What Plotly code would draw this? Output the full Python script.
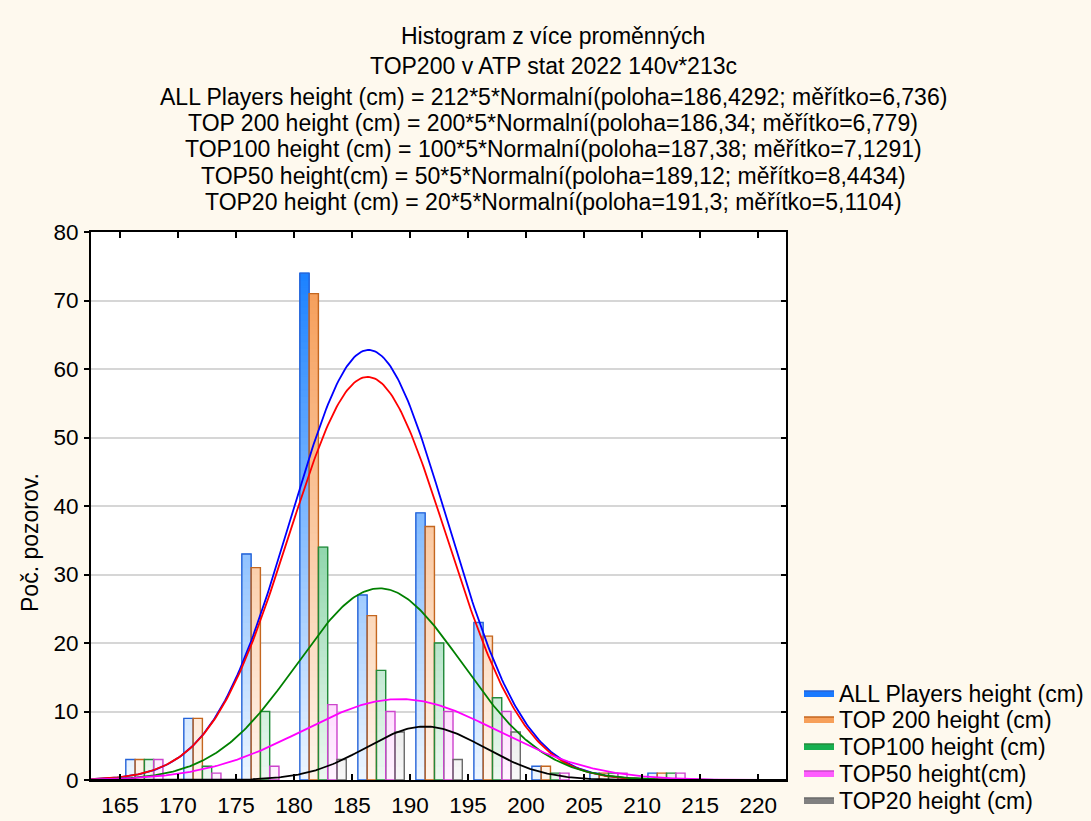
import numpy as np
import plotly.graph_objects as go

# ---------------- data ----------------
bin_edges = [165, 170, 175, 180, 185, 190, 195, 200, 205, 210]  # left edges of 5 cm bins
bin_width = 5
series_names = ["ALL Players height (cm)", "TOP 200 height (cm)", "TOP100 height (cm)",
                "TOP50 height(cm)", "TOP20 height (cm)"]
all_players = [3, 9, 33, 74, 27, 39, 23, 2, 1, 1]
top200 = [3, 9, 31, 71, 24, 37, 21, 2, 1, 1]
top100 = [3, 2, 10, 34, 16, 20, 12, 1, 1, 1]
top50 = [3, 1, 2, 11, 10, 10, 10, 1, 1, 1]
top20 = [0, 0, 0, 3, 7, 3, 7, 0, 0, 0]
counts = [all_players, top200, top100, top50, top20]

# fitted normal distributions (from the chart title)
fit_n = [212, 200, 100, 50, 20]
fit_mu = [186.4292, 186.34, 187.38, 189.12, 191.3]
fit_sigma = [6.736, 6.779, 7.1291, 8.4434, 5.1104]

x_ticks = [165, 170, 175, 180, 185, 190, 195, 200, 205, 210, 215, 220]
y_ticks = [0, 10, 20, 30, 40, 50, 60, 70, 80]

title_lines = [
    "Histogram z více proměnných",
    "TOP200 v ATP stat 2022 140v*213c",
    "ALL Players height (cm) = 212*5*Normalní(poloha=186,4292; měřítko=6,736)",
    "TOP 200 height (cm) = 200*5*Normalní(poloha=186,34; měřítko=6,779)",
    "TOP100 height (cm) = 100*5*Normalní(poloha=187,38; měřítko=7,1291)",
    "TOP50 height(cm) = 50*5*Normalní(poloha=189,12; měřítko=8,4434)",
    "TOP20 height (cm) = 20*5*Normalní(poloha=191,3; měřítko=5,1104)",
]
y_title = "Poč. pozorov."

# ---------------- style ----------------
W, H = 1091, 821
M_L, M_R, M_T, M_B = 91, 305, 232, 41
x_range = [162.5, 222.4]
y_range = [0, 80]
bar_w = 0.8          # width of one bar (x units)
group_pad = 0.5      # gap at each side of a bin
outline_colors = ["#2563D8", "#C4661F", "#238A3A", "#CC44CC", "#6A6A6A"]
grad_top = ["#0A78FF", "#F5954A", "#12A850", "#FF44FF", "#787878"]
grad_bottom = ["#EEF6FF", "#FFF5EC", "#EEF9F2", "#FFF4FF", "#F8F8F8"]
legend_fill = ["#1A7AFF", "#F7A05A", "#16B050", "#FF5CFF", "#808080"]
curve_colors = ["#0000FF", "#FF0000", "#008000", "#FF00FF", "#000000"]
font_family = "Liberation Sans, Arial, sans-serif"
fs = 22.5
fs_title = 23
fs_legend = 23
title_px = [35.7, 65.7, 96.7, 122.7, 149.3, 175.5, 202.2]   # line centres (px from top)
title_cx = 553
legend_px = [693, 719, 746, 773, 800]                      # legend row centres
legend_left = 799


def hex_rgb(h):
    h = h.lstrip("#")
    return [int(h[i:i + 2], 16) for i in (0, 2, 4)]


def mix(c0, c1, t):
    a, b = hex_rgb(c0), hex_rgb(c1)
    return "rgb(%d,%d,%d)" % tuple(round(a[i] + (b[i] - a[i]) * t) for i in range(3))


plot_w = W - M_L - M_R
plot_h = H - M_T - M_B

fig = go.Figure()

# bars: gradient fill built from unit slices coloured by their absolute height
for k, vals in enumerate(counts):
    xs, bases, cols = [], [], []
    for edge, v in zip(bin_edges, vals):
        cx = edge + group_pad + (k + 0.5) * bar_w
        for j in range(int(v)):
            xs.append(cx)
            bases.append(j)
            cols.append(mix(grad_bottom[k], grad_top[k], (j + 0.5) / y_range[1]))
    fig.add_trace(go.Bar(x=xs, y=[1] * len(xs), base=bases, width=bar_w,
                         marker=dict(color=cols, line=dict(width=1, color=cols)),
                         showlegend=False, hoverinfo="skip"))

# bar outlines
for k, vals in enumerate(counts):
    cxs = [edge + group_pad + (k + 0.5) * bar_w for edge in bin_edges]
    fig.add_trace(go.Bar(x=cxs, y=[v if v > 0 else None for v in vals], width=bar_w,
                         marker=dict(color="rgba(0,0,0,0)",
                                     line=dict(color=outline_colors[k], width=1.4)),
                         showlegend=False, hoverinfo="skip"))

# fitted normal curves
xc = np.linspace(x_range[0], x_range[1], 400)
for k in range(5):
    yc = fit_n[k] * bin_width * np.exp(-0.5 * ((xc - fit_mu[k]) / fit_sigma[k]) ** 2) / (
        fit_sigma[k] * np.sqrt(2 * np.pi))
    fig.add_trace(go.Scatter(x=xc, y=yc, mode="lines", showlegend=False,
                             line=dict(color=curve_colors[k], width=1.8),
                             hoverinfo="skip"))

# legend entries, one legend box per row so the row spacing can match
legend_layouts = {}
for k, name in enumerate(series_names):
    lname = "legend" if k == 0 else "legend%d" % (k + 1)
    fig.add_trace(go.Scatter(x=[None], y=[None], mode="lines", name=name,
                             fill="toself", fillcolor=legend_fill[k],
                             line=dict(color=outline_colors[k], width=1.6),
                             legend=lname, hoverinfo="skip"))
    legend_layouts[lname] = dict(
        x=(legend_left - M_L) / plot_w, xanchor="left",
        y=(H - M_B - legend_px[k]) / plot_h, yanchor="middle",
        bgcolor="rgba(0,0,0,0)", borderwidth=0, font=dict(size=fs_legend),
        itemwidth=30)

# helper trace for the right-hand (inside) tick axis
fig.add_trace(go.Scatter(x=[None], y=[None], yaxis="y2", showlegend=False,
                         hoverinfo="skip"))

annotations = []
for line, py in zip(title_lines, title_px):
    annotations.append(dict(text=line, xref="paper", yref="paper",
                            x=(title_cx - M_L) / plot_w, y=(H - M_B - py) / plot_h,
                            xanchor="center", yanchor="middle", showarrow=False,
                            font=dict(size=fs_title)))
annotations.append(dict(text=y_title, textangle=-90, xref="paper", yref="paper",
                        x=(30 - M_L) / plot_w, y=(H - M_B - 543) / plot_h,
                        xanchor="center", yanchor="middle", showarrow=False,
                        font=dict(size=fs_title)))

fig.update_layout(
    width=W, height=H,
    margin=dict(l=M_L, r=M_R, t=M_T, b=M_B, autoexpand=False),
    paper_bgcolor="#FEF9EE",
    plot_bgcolor="#FFFFFF",
    barmode="overlay",
    font=dict(family=font_family, size=fs, color="#000000"),
    xaxis=dict(range=x_range, tickvals=x_ticks, ticks="inside", ticklen=6,
               tickwidth=1.5, tickcolor="#000", showgrid=False, zeroline=False,
               showline=True, linecolor="#000", linewidth=2, mirror="ticks",
               ticklabelstandoff=4, automargin=False),
    yaxis=dict(range=y_range, tickvals=y_ticks, ticks="outside", ticklen=5,
               tickwidth=1.5, tickcolor="#000", showgrid=True,
               gridcolor="#D6D6D6", gridwidth=1.5, zeroline=False,
               showline=True, linecolor="#000", linewidth=2, mirror=True,
               ticklabelstandoff=1, automargin=False),
    yaxis2=dict(range=y_range, tickvals=y_ticks, overlaying="y", side="right",
                ticks="inside", ticklen=5, tickwidth=1.5, tickcolor="#000",
                showticklabels=False, showgrid=False, zeroline=False,
                showline=False, automargin=False),
    annotations=annotations,
    **legend_layouts,
)

fig.write_html("out.html")
